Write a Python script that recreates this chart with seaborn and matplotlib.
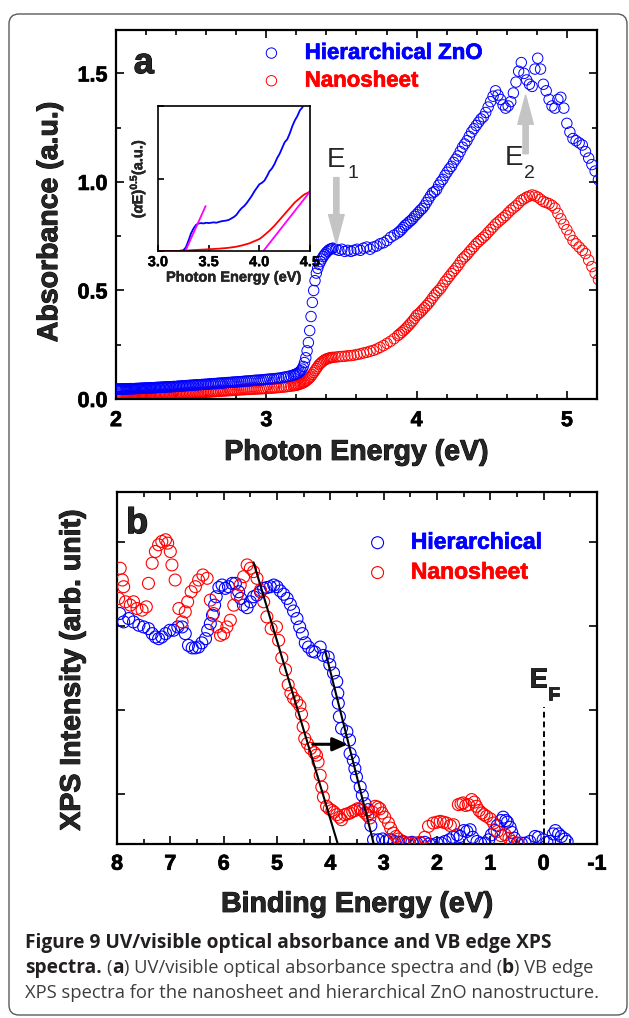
import numpy as np
import matplotlib
matplotlib.use("Agg")
import matplotlib.pyplot as plt
import matplotlib.patheffects as pe
import seaborn as sns
from matplotlib.patches import FancyBboxPatch
from matplotlib.transforms import IdentityTransform
from matplotlib.ticker import MultipleLocator, NullFormatter

# ---------------- data: panel a (UV/vis absorbance vs recorded wavelength) ----------------
# 2 nm steps 620-392 nm, 1 nm steps 390-360 nm, 2 nm steps 358-322 nm, 1 nm steps 320-238 nm
wavelength_nm = np.concatenate([np.arange(620, 391, -2), np.arange(390, 359, -1),
                                np.arange(358, 321, -2), np.arange(320, 237, -1)])
energy_a = 1239.84 / wavelength_nm
abs_hier = [
    0.045, 0.046, 0.045, 0.046, 0.046, 0.045, 0.046, 0.047, 0.046, 0.046,   # 620-602
    0.047, 0.046, 0.047, 0.047, 0.048, 0.047, 0.048, 0.047, 0.048, 0.048,   # 600-582
    0.049, 0.048, 0.049, 0.049, 0.050, 0.049, 0.050, 0.050, 0.051, 0.050,   # 580-562
    0.051, 0.051, 0.052, 0.051, 0.052, 0.052, 0.053, 0.053, 0.054, 0.053,   # 560-542
    0.054, 0.055, 0.054, 0.055, 0.056, 0.055, 0.056, 0.057, 0.056, 0.057,   # 540-522
    0.058, 0.057, 0.058, 0.059, 0.059, 0.060, 0.060, 0.061, 0.061, 0.062,   # 520-502
    0.062, 0.063, 0.063, 0.064, 0.064, 0.065, 0.065, 0.066, 0.066, 0.067,   # 500-482
    0.067, 0.068, 0.068, 0.069, 0.070, 0.070, 0.071, 0.071, 0.072, 0.073,   # 480-462
    0.073, 0.074, 0.074, 0.075, 0.076, 0.076, 0.077, 0.078, 0.078, 0.079,   # 460-442
    0.080, 0.080, 0.081, 0.082, 0.083, 0.083, 0.084, 0.085, 0.086, 0.087,   # 440-422
    0.087, 0.088, 0.089, 0.090, 0.091, 0.092, 0.093, 0.094, 0.095, 0.096,   # 420-402
    0.098, 0.100, 0.102, 0.104, 0.107,                                      # 400-392
    0.110, 0.112, 0.114, 0.117, 0.120, 0.124, 0.130, 0.138, 0.150, 0.168,   # 390-381
    0.190, 0.222, 0.260, 0.315, 0.380, 0.445, 0.500, 0.545, 0.580, 0.602,   # 380-371
    0.620, 0.633, 0.645, 0.656, 0.665, 0.673, 0.680, 0.686, 0.690, 0.693,   # 370-361
    0.695,                                                                  # 360
    0.690, 0.685, 0.690, 0.680, 0.685, 0.680, 0.685, 0.690, 0.685, 0.695,   # 358-340
    0.700, 0.690, 0.700, 0.705, 0.715, 0.720, 0.730, 0.745, 0.755,          # 338-322
    0.765, 0.772, 0.780, 0.790, 0.800, 0.806, 0.815, 0.822, 0.830, 0.842,   # 320-311
    0.850, 0.860, 0.870, 0.878, 0.890, 0.905, 0.920, 0.935, 0.950, 0.955,   # 310-301
    0.965, 0.985, 1.000, 1.012, 1.030, 1.045, 1.060, 1.072, 1.090, 1.105,   # 300-291
    1.120, 1.140, 1.160, 1.175, 1.190, 1.210, 1.230, 1.245, 1.260, 1.275,   # 290-281
    1.290, 1.300, 1.320, 1.345, 1.370, 1.395, 1.420, 1.400, 1.380, 1.355,   # 280-271
    1.340, 1.350, 1.370, 1.410, 1.460, 1.510, 1.550, 1.500, 1.470, 1.450,   # 270-261
    1.440, 1.520, 1.570, 1.520, 1.450, 1.420, 1.380, 1.350, 1.340, 1.380,   # 260-251
    1.390, 1.340, 1.270, 1.230, 1.200, 1.190, 1.180, 1.170, 1.140, 1.110,   # 250-241
    1.080, 1.050, 1.010,                                                    # 240-238
]
abs_nano = [
    0.010, 0.011, 0.010, 0.011, 0.011, 0.010, 0.011, 0.012, 0.011, 0.011,   # 620-602
    0.012, 0.011, 0.012, 0.012, 0.013, 0.012, 0.013, 0.012, 0.013, 0.013,   # 600-582
    0.013, 0.013, 0.014, 0.014, 0.014, 0.014, 0.015, 0.015, 0.015, 0.015,   # 580-562
    0.016, 0.016, 0.016, 0.017, 0.017, 0.017, 0.017, 0.018, 0.018, 0.018,   # 560-542
    0.019, 0.019, 0.019, 0.020, 0.020, 0.020, 0.021, 0.021, 0.021, 0.022,   # 540-522
    0.022, 0.022, 0.023, 0.023, 0.024, 0.024, 0.025, 0.025, 0.026, 0.026,   # 520-502
    0.026, 0.027, 0.027, 0.028, 0.028, 0.029, 0.029, 0.030, 0.030, 0.031,   # 500-482
    0.031, 0.031, 0.032, 0.032, 0.033, 0.033, 0.034, 0.034, 0.035, 0.035,   # 480-462
    0.036, 0.037, 0.037, 0.038, 0.038, 0.039, 0.039, 0.040, 0.040, 0.041,   # 460-442
    0.042, 0.042, 0.043, 0.043, 0.044, 0.044, 0.045, 0.045, 0.046, 0.046,   # 440-422
    0.047, 0.047, 0.048, 0.048, 0.049, 0.050, 0.050, 0.051, 0.052, 0.053,   # 420-402
    0.054, 0.055, 0.056, 0.058, 0.059,                                      # 400-392
    0.061, 0.062, 0.063, 0.064, 0.066, 0.068, 0.070, 0.072, 0.075, 0.078,   # 390-381
    0.082, 0.087, 0.092, 0.098, 0.105, 0.113, 0.122, 0.131, 0.140, 0.149,   # 380-371
    0.158, 0.164, 0.170, 0.175, 0.180, 0.183, 0.186, 0.188, 0.190, 0.191,   # 370-361
    0.192,                                                                  # 360
    0.193, 0.195, 0.196, 0.197, 0.199, 0.200, 0.202, 0.205, 0.208, 0.212,   # 358-340
    0.215, 0.220, 0.224, 0.230, 0.238, 0.246, 0.256, 0.266, 0.278,          # 338-322
    0.292, 0.299, 0.306, 0.314, 0.322, 0.331, 0.340, 0.350, 0.360, 0.372,   # 320-311
    0.385, 0.392, 0.400, 0.410, 0.420, 0.430, 0.440, 0.452, 0.465, 0.478,   # 310-301
    0.490, 0.500, 0.510, 0.525, 0.540, 0.552, 0.565, 0.578, 0.590, 0.602,   # 300-291
    0.615, 0.630, 0.645, 0.655, 0.665, 0.678, 0.690, 0.702, 0.715, 0.725,   # 290-281
    0.735, 0.745, 0.755, 0.768, 0.780, 0.792, 0.805, 0.815, 0.825, 0.835,   # 280-271
    0.845, 0.858, 0.870, 0.880, 0.890, 0.902, 0.915, 0.922, 0.930, 0.935,   # 270-261
    0.940, 0.936, 0.930, 0.920, 0.910, 0.905, 0.900, 0.892, 0.880, 0.855,   # 260-251
    0.830, 0.805, 0.780, 0.755, 0.730, 0.715, 0.700, 0.685, 0.670, 0.640,   # 250-241
    0.610, 0.580, 0.550,                                                    # 240-238
]

# ---------------- inset: (alpha E)^0.5 Tauc curves ----------------
energy_in_hier = np.round(np.arange(3.0, 4.4501, 0.025), 3)
tauc_hier = [
    0.00, 0.00, 0.00, 0.00, 0.00, 0.00, 0.00, 0.00, 0.00, 0.005,
    0.01, 0.05, 0.14, 0.24, 0.31, 0.36, 0.38, 0.385, 0.38, 0.39,
    0.385, 0.39, 0.395, 0.39, 0.40, 0.41, 0.415, 0.42, 0.43, 0.45,
    0.47, 0.50, 0.55, 0.59, 0.62, 0.66, 0.71, 0.76, 0.82, 0.87,
    0.92, 0.94, 0.97, 1.03, 1.10, 1.14, 1.20, 1.28, 1.34, 1.42,
    1.50, 1.54, 1.62, 1.72, 1.80, 1.86, 1.94, 1.98, 2.08,
]
energy_in_nano = np.round(np.arange(3.0, 4.5001, 0.025), 3)
tauc_nano = [
    0.00, 0.00, 0.00, 0.00, 0.00, 0.00, 0.00, 0.00, 0.00, 0.00,
    0.00, 0.005, 0.008, 0.010, 0.012, 0.014, 0.016, 0.018, 0.020, 0.022,
    0.024, 0.026, 0.028, 0.030, 0.032, 0.035, 0.038, 0.041, 0.045, 0.050,
    0.055, 0.060, 0.068, 0.076, 0.085, 0.095, 0.105, 0.120, 0.135, 0.150,
    0.165, 0.190, 0.220, 0.250, 0.280, 0.315, 0.350, 0.390, 0.430, 0.470,
    0.510, 0.550, 0.590, 0.630, 0.670, 0.700, 0.730, 0.760, 0.785, 0.800,
    0.820,
]
tangent_hier_x = [3.27, 3.47]
tangent_hier_y = [0.00, 0.62]
tangent_nano_x = [4.04, 4.50]
tangent_nano_y = [0.00, 0.82]

# ---------------- panel b: VB edge XPS (binding energy eV, intensity) ----------------
xps_hier = [
    (7.95, 3.15), (7.875, 3.05), (7.78, 3.09), (7.69, 3.05), (7.59, 3.01), (7.50, 2.99),
    (7.41, 2.97), (7.34, 2.91), (7.28, 2.87), (7.22, 2.85), (7.16, 2.87), (7.09, 2.91),
    (7.01, 2.95), (6.94, 2.95), (6.86, 2.99), (6.78, 2.99), (6.72, 2.91), (6.66, 2.77),
    (6.59, 2.74), (6.53, 2.74), (6.47, 2.75), (6.41, 2.80), (6.34, 2.85), (6.30, 2.95),
    (6.25, 3.03), (6.21, 3.13), (6.17, 3.25), (6.14, 3.35), (6.09, 3.46), (6.03, 3.49),
    (5.97, 3.45), (5.91, 3.47), (5.84, 3.51), (5.78, 3.51), (5.72, 3.41), (5.68, 3.33),
    (5.63, 3.25), (5.56, 3.22), (5.50, 3.29), (5.44, 3.35), (5.375, 3.37), (5.31, 3.41),
    (5.25, 3.45), (5.19, 3.46), (5.125, 3.47), (5.06, 3.49), (5.00, 3.47), (4.94, 3.42),
    (4.875, 3.38), (4.81, 3.33), (4.75, 3.26), (4.69, 3.18), (4.625, 3.09), (4.575, 2.99),
    (4.525, 2.91), (4.47, 2.80), (4.41, 2.75), (4.34, 2.70), (4.29, 2.69), (4.19, 2.75),
    (4.13, 2.65), (4.04, 2.63), (4.01, 2.54), (3.94, 2.44), (3.88, 2.34), (3.86, 2.20),
    (3.85, 2.08), (3.83, 1.92), (3.79, 1.78), (3.69, 1.74), (3.64, 1.64), (3.63, 1.48),
    (3.57, 1.40), (3.54, 1.30), (3.51, 1.20), (3.44, 1.08), (3.40, 0.98), (3.35, 0.88),
    (3.29, 0.81), (3.24, 0.62), (3.19, 0.45), (3.10, 0.45), (3.02, 0.46), (2.95, 0.44),
    (2.88, 0.45), (2.80, 0.43), (2.72, 0.42), (2.64, 0.43), (2.55, 0.41), (2.47, 0.42),
    (2.38, 0.41), (2.30, 0.41), (2.23, 0.42), (2.15, 0.40), (2.08, 0.39), (2.00, 0.41),
    (1.92, 0.41), (1.85, 0.43), (1.77, 0.45), (1.70, 0.48), (1.62, 0.51), (1.57, 0.49),
    (1.50, 0.56), (1.44, 0.55), (1.38, 0.57), (1.33, 0.48), (1.25, 0.43), (1.18, 0.41),
    (1.10, 0.41), (1.03, 0.45), (0.98, 0.51), (0.92, 0.56), (0.87, 0.62), (0.80, 0.68),
    (0.76, 0.72), (0.71, 0.68), (0.68, 0.66), (0.63, 0.60), (0.60, 0.54), (0.55, 0.47),
    (0.50, 0.41), (0.42, 0.41), (0.35, 0.41), (0.26, 0.43), (0.16, 0.49), (0.10, 0.48),
    (0.01, 0.45), (-0.06, 0.42), (-0.11, 0.43), (-0.18, 0.52), (-0.22, 0.56), (-0.28, 0.52),
    (-0.33, 0.49), (-0.40, 0.46), (-0.44, 0.43),
]
xps_nano = [
    (7.97, 3.33), (7.94, 3.69), (7.90, 3.55), (7.875, 3.47), (7.84, 3.29), (7.75, 3.25),
    (7.69, 3.29), (7.625, 3.21), (7.53, 3.19), (7.45, 3.23), (7.41, 3.51), (7.34, 3.75),
    (7.28, 3.89), (7.22, 3.97), (7.16, 4.01), (7.09, 4.03), (7.05, 3.99), (7.00, 3.89),
    (6.97, 3.73), (6.91, 3.55), (6.84, 3.21), (6.78, 3.05), (6.72, 3.17), (6.675, 3.29),
    (6.61, 3.41), (6.53, 3.47), (6.47, 3.55), (6.39, 3.61), (6.31, 3.57), (6.25, 3.31),
    (6.19, 3.15), (6.125, 2.99), (6.06, 2.89), (6.00, 2.91), (5.94, 2.99), (5.875, 3.07),
    (5.81, 3.25), (5.75, 3.37), (5.69, 3.49), (5.625, 3.59), (5.56, 3.73), (5.50, 3.69),
    (5.44, 3.65), (5.375, 3.57), (5.31, 3.43), (5.25, 3.29), (5.19, 3.11), (5.11, 2.97),
    (5.01, 2.99), (4.97, 2.83), (4.91, 2.62), (4.84, 2.48), (4.79, 2.30), (4.74, 2.20),
    (4.69, 2.14), (4.63, 2.10), (4.57, 2.05), (4.54, 1.95), (4.51, 1.80), (4.48, 1.66),
    (4.43, 1.60), (4.37, 1.54), (4.30, 1.49), (4.26, 1.46), (4.23, 1.38), (4.19, 1.22),
    (4.16, 1.08), (4.13, 0.96), (4.07, 0.85), (4.02, 0.82), (3.97, 0.80), (3.93, 0.78),
    (3.88, 0.75), (3.83, 0.72), (3.79, 0.69), (3.73, 0.75), (3.68, 0.76), (3.63, 0.77),
    (3.58, 0.79), (3.54, 0.80), (3.49, 0.82), (3.44, 0.82), (3.40, 0.80), (3.35, 0.77),
    (3.30, 0.74), (3.26, 0.71), (3.21, 0.78), (3.16, 0.85), (3.11, 0.84), (3.07, 0.82),
    (3.03, 0.77), (2.98, 0.72), (2.91, 0.65), (2.87, 0.59), (2.82, 0.53), (2.77, 0.49),
    (2.72, 0.46), (2.62, 0.42), (2.52, 0.41), (2.42, 0.41), (2.32, 0.42), (2.23, 0.48),
    (2.16, 0.61), (2.07, 0.65), (2.00, 0.66), (1.94, 0.67), (1.88, 0.66), (1.82, 0.65),
    (1.75, 0.62), (1.69, 0.63), (1.60, 0.87), (1.55, 0.88), (1.51, 0.89), (1.46, 0.86),
    (1.41, 0.87), (1.35, 0.93), (1.30, 0.90), (1.26, 0.85), (1.21, 0.80), (1.16, 0.77),
    (1.12, 0.75), (1.07, 0.73), (1.00, 0.70), (0.94, 0.65), (0.87, 0.55), (0.80, 0.50),
    (0.72, 0.51), (0.65, 0.47), (0.59, 0.43), (0.48, 0.41),
]
edge_fit_nano_x = [5.44, 3.86]
edge_fit_nano_y = [3.76, 0.40]
edge_fit_hier_x = [4.095, 3.185]
edge_fit_hier_y = [2.70, 0.40]
shift_arrow_x = [4.33, 3.67]
shift_arrow_y = 1.59
fermi_x = 0.0
fermi_top = 2.03

xticks_a = [2, 3, 4, 5]
yticks_a = [0.0, 0.5, 1.0, 1.5]
yticklabels_a = ["0.0", "0.5", "1.0", "1.5"]
xticks_b = [8, 7, 6, 5, 4, 3, 2, 1, 0, -1]
yticks_b = [1, 2, 3, 4]
xticks_in = [3.0, 3.5, 4.0, 4.5]

BLUE = "#0000ff"
RED = "#ff0000"
MAGENTA = "#ff00ff"
GREY = "#c4c4c4"

# ---------------- style ----------------
sns.set_style("ticks")
plt.rcParams["font.family"] = ["Liberation Sans", "DejaVu Sans"]
plt.rcParams["font.weight"] = "bold"
plt.rcParams["axes.labelweight"] = "bold"
plt.rcParams["axes.unicode_minus"] = False
plt.rcParams["mathtext.fontset"] = "custom"
plt.rcParams["mathtext.rm"] = "Liberation Sans:bold"
plt.rcParams["mathtext.bf"] = "Liberation Sans:bold"
plt.rcParams["mathtext.it"] = "Liberation Sans:bold:italic"

W, H = 629, 1018
fig = plt.figure(figsize=(W / 100, H / 100), dpi=100)
fig.patch.set_facecolor("white")

ax1 = fig.add_axes([116 / W, 1 - 399 / H, 481 / W, 369 / H])
ax2 = fig.add_axes([117 / W, 1 - 844 / H, 480 / W, 352 / H])
axin = fig.add_axes([158 / W, 1 - 251 / H, 152 / W, 145 / H])


def heavy(color="black", w=0.6):
    return [pe.withStroke(linewidth=w, foreground=color)]


def style_axes(ax, lw=1.6, major=6, minor=3.5, size=15.5, pad=6, stroke=0.5):
    for s in ax.spines.values():
        s.set_visible(True)
        s.set_linewidth(lw)
        s.set_color("black")
    ax.tick_params(which="both", direction="in", top=True, right=True,
                   width=1.2, colors="black", labelsize=size, pad=pad)
    ax.tick_params(which="major", length=major)
    ax.tick_params(which="minor", length=minor)
    for lab in ax.get_xticklabels() + ax.get_yticklabels():
        lab.set_fontweight("bold")
        if stroke:
            lab.set_path_effects(heavy(w=stroke))


# ---------------- panel a ----------------
sns.scatterplot(x=energy_a, y=abs_nano, ax=ax1, s=56, facecolor="none",
                edgecolor=RED, linewidth=0.7, label="Nanosheet", zorder=2)
sns.scatterplot(x=energy_a, y=abs_hier, ax=ax1, s=56, facecolor="none",
                edgecolor=BLUE, linewidth=0.7, label="Hierarchical ZnO", zorder=3)
ax1.set_xlim(2, 5.2)
ax1.set_ylim(0, 1.7)
ax1.set_xticks(xticks_a)
ax1.set_xticklabels([str(v) for v in xticks_a])
ax1.set_yticks(yticks_a)
ax1.set_yticklabels(yticklabels_a)
ax1.xaxis.set_minor_locator(MultipleLocator(0.2))
ax1.yaxis.set_minor_locator(MultipleLocator(0.25))
style_axes(ax1)
ax1.tick_params(axis="x", pad=8)
ax1.set_xlabel("Photon Energy (eV)", fontsize=20.5, fontweight="bold", va="center",
               path_effects=heavy(w=0.7))
ax1.xaxis.set_label_coords(0.5, -0.146)
ax1.set_ylabel("Absorbance (a.u.)", fontsize=20.5, fontweight="bold", va="center",
               path_effects=heavy(w=0.7))
ax1.yaxis.set_label_coords(-0.137, 0.48)

h1, l1 = ax1.get_legend_handles_labels()
order = [l1.index("Hierarchical ZnO"), l1.index("Nanosheet")]
leg = ax1.legend([h1[i] for i in order], [l1[i] for i in order],
                 loc="upper left", bbox_to_anchor=(0.30, 0.965), frameon=False,
                 fontsize=16, handlelength=1.0, handletextpad=1.0,
                 labelspacing=0.3, borderpad=0, borderaxespad=0)
for t, c in zip(leg.get_texts(), [BLUE, RED]):
    t.set_color(c)
    t.set_fontweight("bold")
    t.set_path_effects(heavy(c, 0.5))

ax1.text(0.037, 0.883, "a", transform=ax1.transAxes, fontsize=26,
         fontweight="bold", va="baseline", ha="left", path_effects=heavy(w=0.8))

# E1 / E2 markers
arrow_style = "simple,head_width=0.8,head_length=1.5,tail_width=0.27"
ax1.annotate("", xy=(3.466, 0.715), xytext=(3.466, 1.02),
             arrowprops=dict(arrowstyle=arrow_style, color=GREY, mutation_scale=14,
                             shrinkA=0, shrinkB=0), zorder=4)
ax1.annotate("", xy=(4.725, 1.40), xytext=(4.725, 1.13),
             arrowprops=dict(arrowstyle=arrow_style, color=GREY, mutation_scale=14,
                             shrinkA=0, shrinkB=0), zorder=4)
ax1.text(3.40, 1.07, "E", fontsize=20, fontweight="normal", va="baseline", ha="left")
ax1.annotate("1", xy=(3.40, 1.07), xytext=(15, -8), textcoords="offset points",
             fontsize=14, fontweight="normal", va="baseline", ha="left")
ax1.text(4.585, 1.078, "E", fontsize=20, fontweight="normal", va="baseline", ha="left")
ax1.annotate("2", xy=(4.585, 1.078), xytext=(14, -9), textcoords="offset points",
             fontsize=14, fontweight="normal", va="baseline", ha="left")

# ---------------- inset ----------------
sns.lineplot(x=energy_in_hier, y=tauc_hier, ax=axin, color=BLUE, lw=1.3)
sns.lineplot(x=energy_in_nano, y=tauc_nano, ax=axin, color=RED, lw=1.3)
sns.lineplot(x=tangent_hier_x, y=tangent_hier_y, ax=axin, color=MAGENTA, lw=1.3)
sns.lineplot(x=tangent_nano_x, y=tangent_nano_y, ax=axin, color=MAGENTA, lw=1.3)
axin.set_xlim(3.0, 4.5)
axin.set_ylim(0, 2.0)
axin.set_xticks(xticks_in)
axin.set_xticklabels(["3.0", "3.5", "4.0", "4.5"])
axin.set_yticks([0, 1, 2])
axin.yaxis.set_major_formatter(NullFormatter())
style_axes(axin, lw=1.2, major=4, minor=2, size=10.5, pad=3, stroke=0.3)
axin.tick_params(top=False, right=False)
axin.set_xlabel("Photon Energy (eV)", fontsize=10.5, fontweight="bold", labelpad=1,
                path_effects=heavy(w=0.3))
axin.set_ylabel(r"($\alpha$E)$^{0.5}$(a.u.)", fontsize=10.5, fontweight="bold", labelpad=4,
                path_effects=heavy(w=0.3))

# ---------------- panel b ----------------
hx, hy = np.array(xps_hier).T
nx, ny = np.array(xps_nano).T
sns.scatterplot(x=hx, y=hy, ax=ax2, s=74, facecolor="none", edgecolor=BLUE,
                linewidth=0.8, label="Hierarchical", zorder=3)
sns.scatterplot(x=nx, y=ny, ax=ax2, s=74, facecolor="none", edgecolor=RED,
                linewidth=0.8, label="Nanosheet", zorder=3)
sns.lineplot(x=edge_fit_nano_x, y=edge_fit_nano_y, ax=ax2, color="black", lw=1.5, zorder=4)
sns.lineplot(x=edge_fit_hier_x, y=edge_fit_hier_y, ax=ax2, color="black", lw=1.5, zorder=4)
ax2.plot([fermi_x, fermi_x], [0.4, fermi_top], color="black", lw=1.4,
         ls=(0, (3, 2)), zorder=4)
ax2.annotate("", xy=(shift_arrow_x[1], shift_arrow_y), xytext=(shift_arrow_x[0], shift_arrow_y),
             arrowprops=dict(arrowstyle="-|>,head_width=0.4,head_length=0.9", color="black",
                             lw=2.2, mutation_scale=10, shrinkA=0, shrinkB=0), zorder=5)
ax2.set_xlim(8, -1)
ax2.set_ylim(0.4, 4.6)
ax2.set_xticks(xticks_b)
ax2.set_xticklabels([str(v) for v in xticks_b])
ax2.xaxis.set_minor_locator(MultipleLocator(0.5))
ax2.set_yticks(yticks_b)
ax2.yaxis.set_major_formatter(NullFormatter())
style_axes(ax2)
ax2.tick_params(axis="x", pad=7)
ax2.set_xlabel("Binding Energy (eV)", fontsize=20.5, fontweight="bold", va="center",
               path_effects=heavy(w=0.7))
ax2.xaxis.set_label_coords(0.5, -0.173)
ax2.set_ylabel("XPS Intensity (arb. unit)", fontsize=20.5, fontweight="bold", va="center",
               path_effects=heavy(w=0.7))
ax2.yaxis.set_label_coords(-0.092, 0.494)

leg2 = ax2.legend(loc="upper left", bbox_to_anchor=(0.519, 0.89), frameon=False,
                  fontsize=16.5, handlelength=1.0, handletextpad=0.95,
                  labelspacing=0.3, borderpad=0, borderaxespad=0)
for t, c in zip(leg2.get_texts(), [BLUE, RED]):
    t.set_color(c)
    t.set_fontweight("bold")
    t.set_path_effects(heavy(c, 0.5))

ax2.text(0.019, 0.883, "b", transform=ax2.transAxes, fontsize=26,
         fontweight="bold", va="baseline", ha="left", path_effects=heavy(w=0.8))
ax2.text(0.275, 2.27, "E", fontsize=20, fontweight="bold", va="baseline", ha="left",
         path_effects=heavy(w=0.6))
ax2.annotate("F", xy=(0.275, 2.27), xytext=(13.5, -9.5), textcoords="offset points",
             fontsize=14, fontweight="bold", va="baseline", ha="left",
             path_effects=heavy(w=0.5))

# ---------------- border and caption ----------------
border = FancyBboxPatch((9, H - 1015), 618, 1001, boxstyle="round,pad=0,rounding_size=10",
                        transform=IdentityTransform(), fill=False, ec="#5a5a5a", lw=1.0)
fig.patches.append(border)

renderer = fig.canvas.get_renderer()
CAP = ["Open Sans", "DejaVu Sans"]


def text_width(s, weight, size):
    t = fig.text(0, 0, s, fontsize=size, fontweight=weight, family=CAP,
                 transform=IdentityTransform())
    w = t.get_window_extent(renderer).width
    t.remove()
    return w


line1 = "Figure 9 UV/visible optical absorbance and VB edge XPS"
line3 = "XPS spectra for the nanosheet and hierarchical ZnO nanostructure."
size_bold = 12.0 * 526 / text_width(line1, "bold", 12.0)
size_reg = 12.0 * 572 / text_width(line3, "normal", 12.0)
sizes = {"bold": size_bold, "normal": size_reg}
space_w = text_width("x x", "normal", size_reg) - text_width("xx", "normal", size_reg)


def caption_line(y_base, pieces, x0=25):
    x = x0
    for txt, weight, col, space_before in pieces:
        if space_before:
            x += space_w
        t = fig.text(x, H - y_base, txt, fontsize=sizes[weight], fontweight=weight, color=col,
                     family=CAP, transform=IdentityTransform(), va="baseline", ha="left")
        x += t.get_window_extent(renderer).width


DARK = "#231f20"
GRAY = "#3d3d3d"
caption_line(948, [(line1, "bold", DARK, False)])
caption_line(973, [("spectra.", "bold", DARK, False), ("(", "normal", GRAY, True),
                   ("a", "bold", DARK, False),
                   (") UV/visible optical absorbance spectra and (", "normal", GRAY, False),
                   ("b", "bold", DARK, False), (") VB edge", "normal", GRAY, False)])
caption_line(998, [(line3, "normal", GRAY, False)])

fig.savefig("out.png", dpi=100, facecolor="white")
